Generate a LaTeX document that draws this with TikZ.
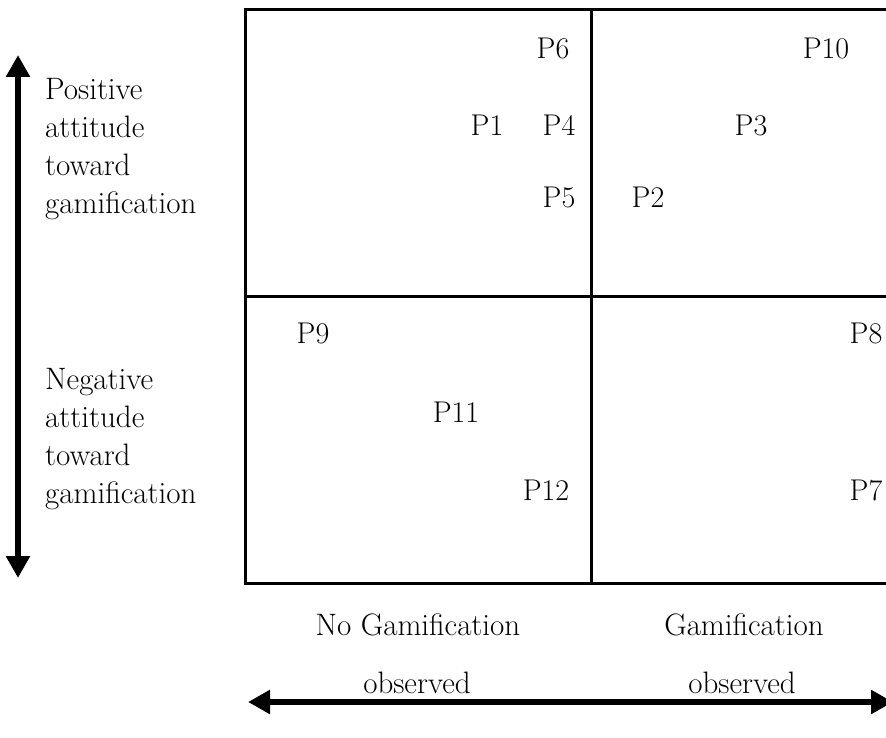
\documentclass[tikz,border=0pt]{standalone}
\usetikzlibrary{arrows.meta}
\begin{document}
\begin{tikzpicture}[x=1pt,y=-1pt,
  grid/.style={line width=3pt},
  lbl/.style={font=\fontsize{30}{38}\selectfont, inner sep=0pt},
  word/.style={font=\fontsize{31}{38}\selectfont, inner sep=0pt},
  side/.style={word, align=left, anchor=north west},
  axis/.style={line width=6.5pt, {Triangle[width=23pt,length=22pt]}-{Triangle[width=23pt,length=22pt]}}]
\useasboundingbox (0,0) rectangle (886,738);

% quadrant grid
\coordinate (tl) at (245,10);
\coordinate (tm) at (591,10);
\coordinate (tr) at (900,10);
\coordinate (ml) at (245,296);
\coordinate (mr) at (900,296);
\coordinate (bl) at (245,583);
\coordinate (bm) at (591,583);
\coordinate (br) at (900,583);
\draw[grid] (tr) -- (tl) -- (bl) -- (br);
\draw[grid] (tm) -- (bm);
\draw[grid] (ml) -- (mr);

% participants
\node[lbl] (p6)  at (553,48)  {P6};
\node[lbl] (p10) at (826,48)  {P10};
\node[lbl] (p1)  at (487,125) {P1};
\node[lbl] (p4)  at (559,125) {P4};
\node[lbl] (p3)  at (751,125) {P3};
\node[lbl] (p5)  at (559,197) {P5};
\node[lbl] (p2)  at (648,197) {P2};
\node[lbl] (p9)  at (313,333) {P9};
\node[lbl] (p8)  at (866,333) {P8};
\node[lbl] (p11) at (456,412) {P11};
\node[lbl] (p12) at (546,490) {P12};
\node[lbl] (p7)  at (866,490) {P7};

% vertical axis
\coordinate (vtop) at (18,55);
\coordinate (vbot) at (18,578);
\draw[axis] (vbot) -- (vtop);
\node[side] (pos) at (45,78)  {Positive\\attitude\\toward\\gamification};
\node[side] (neg) at (45,368) {Negative\\attitude\\toward\\gamification};

% horizontal axis
\coordinate (hl) at (248,702);
\coordinate (hr) at (893,702);
\draw[axis] (hl) -- (hr);
\node[word] (nog1) at (418,625) {No Gamification};
\node[word] (nog2) at (417,683) {observed};
\node[word] (g1)   at (744,625) {Gamification};
\node[word] (g2)   at (742,683) {observed};
\end{tikzpicture}
\end{document}
